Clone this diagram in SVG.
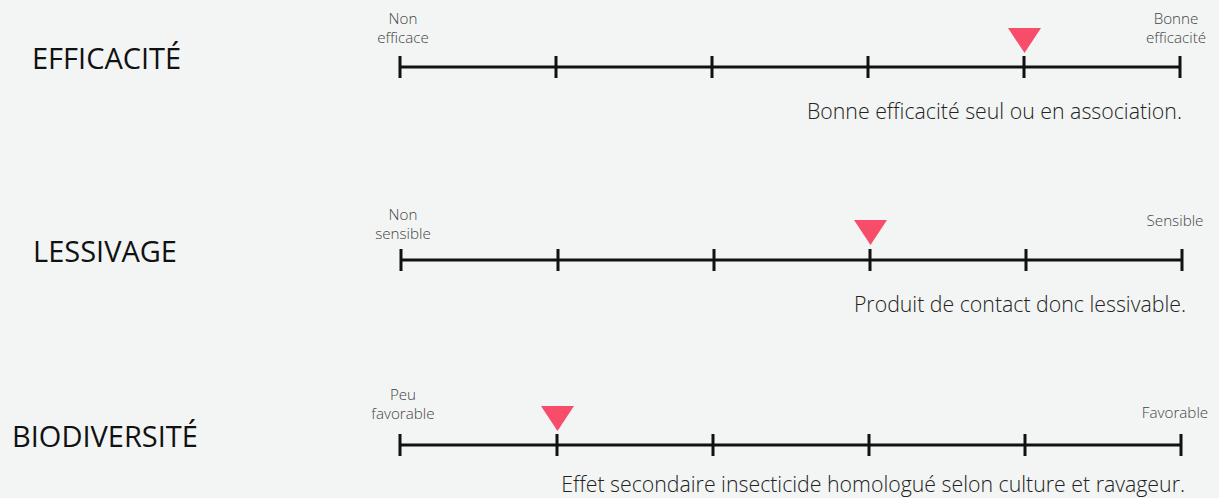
<svg xmlns="http://www.w3.org/2000/svg" width="1219" height="498" viewBox="0 0 1219 498">
<defs>
<style>
.bg{fill:#f2f5f4}
.title{font-family:"Open Sans","Liberation Sans",sans-serif;font-size:29px;fill:#111;font-weight:400}
.lbl{font-family:"Open Sans","Liberation Sans",sans-serif;font-size:15.2px;fill:#444;font-weight:300;text-anchor:middle}
.desc{font-family:"Open Sans","Liberation Sans",sans-serif;font-size:21.3px;fill:#222;font-weight:300;text-anchor:end}
.axis{stroke:#111;stroke-width:3;fill:none}
.mark{fill:#f74d6b}
</style>
</defs>
<rect class="bg" x="0" y="0" width="1219" height="498"/>
<g id="efficacite">
<text class="title" x="32" y="69">EFFICACITÉ</text>
<text class="lbl" x="403" y="24">Non</text>
<text class="lbl" x="403" y="43">efficace</text>
<text class="lbl" x="1176" y="24">Bonne</text>
<text class="lbl" x="1176" y="43">efficacité</text>
<g class="axis">
<path d="M400 67H1180M400 56V78M556 56V78M712 56V78M868 56V78M1024 56V78M1180 56V78"/>
</g>
<polygon class="mark" points="1008,28 1041,28 1024.5,53"/>
<text class="desc" x="1182" y="119">Bonne efficacité seul ou en association.</text>
</g>
<g id="lessivage">
<text class="title" x="33" y="262">LESSIVAGE</text>
<text class="lbl" x="403" y="220">Non</text>
<text class="lbl" x="403" y="239">sensible</text>
<text class="lbl" x="1175" y="226">Sensible</text>
<g class="axis">
<path d="M401 260H1182M401 249V271M558 249V271M714 249V271M870 249V271M1026 249V271M1182 249V271"/>
</g>
<polygon class="mark" points="854,220 887,220 870.5,245"/>
<text class="desc" x="1186" y="312">Produit de contact donc lessivable.</text>
</g>
<g id="biodiversite">
<text class="title" x="12" y="447">BIODIVERSITÉ</text>
<text class="lbl" x="403" y="400">Peu</text>
<text class="lbl" x="403" y="419">favorable</text>
<text class="lbl" x="1175" y="418">Favorable</text>
<g class="axis">
<path d="M400 445H1181M400 434V456M557 434V456M713 434V456M869 434V456M1025 434V456M1181 434V456"/>
</g>
<polygon class="mark" points="541,406 574,406 557.5,431"/>
<text class="desc" x="1185" y="492">Effet secondaire insecticide homologué selon culture et ravageur.</text>
</g>
</svg>
